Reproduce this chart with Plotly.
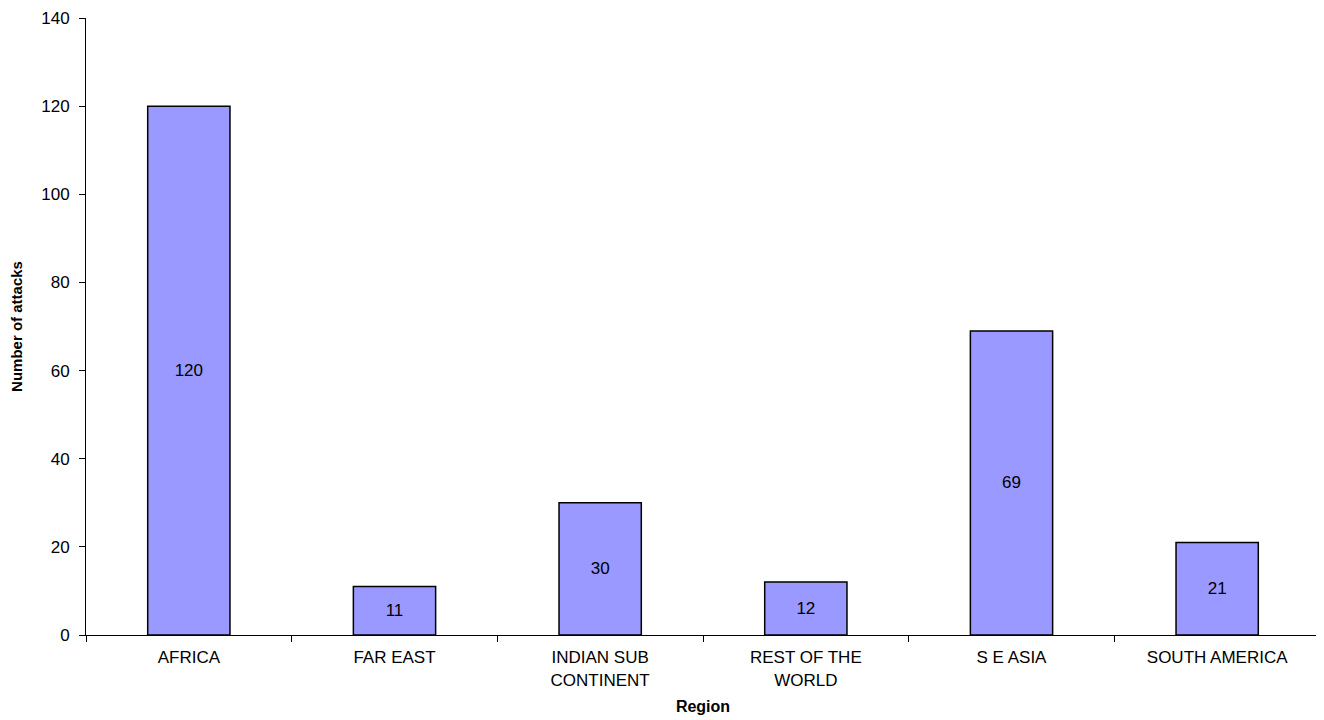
import plotly.graph_objects as go

categories = ["AFRICA", "FAR EAST", "INDIAN SUB<br>CONTINENT", "REST OF THE<br>WORLD", "S E ASIA", "SOUTH AMERICA"]
attacks = [120, 11, 30, 12, 69, 21]
y_ticks = [0, 20, 40, 60, 80, 100, 120, 140]

fig = go.Figure(go.Bar(
    x=categories, y=attacks,
    marker=dict(color="#9999FF", line=dict(color="black", width=1.5)),
    text=[str(v) for v in attacks], textposition="inside", insidetextanchor="middle",
    textfont=dict(family="Liberation Sans, Arial", size=17, color="black"),
    constraintext="none", width=0.4,
))

fig.update_layout(
    width=1324, height=720,
    paper_bgcolor="white", plot_bgcolor="white",
    margin=dict(l=78, r=12, t=10, b=93, autoexpand=False),
    font=dict(family="Liberation Sans, Arial", size=17, color="black"),
    showlegend=False,
)
fig.update_xaxes(
    showline=True, linecolor="black", linewidth=1,
    ticks="outside", tickson="boundaries", ticklen=6, tickcolor="black",
    showgrid=False, automargin=False, ticklabelstandoff=7,
    title=dict(text="<b>Region</b>", font=dict(size=16), standoff=12),
    tickfont=dict(size=17),
)
fig.update_yaxes(
    range=[0, 140], tickvals=y_ticks,
    showline=True, linecolor="black", linewidth=1,
    ticks="outside", ticklen=6, tickcolor="black",
    showgrid=False, zeroline=False, automargin=False, ticklabelstandoff=6,
    ticklabeloverflow="allow",
    title=dict(text="<b>Number of attacks</b>", font=dict(size=15), standoff=16),
    tickfont=dict(size=17),
)

fig.write_html("out.html")
